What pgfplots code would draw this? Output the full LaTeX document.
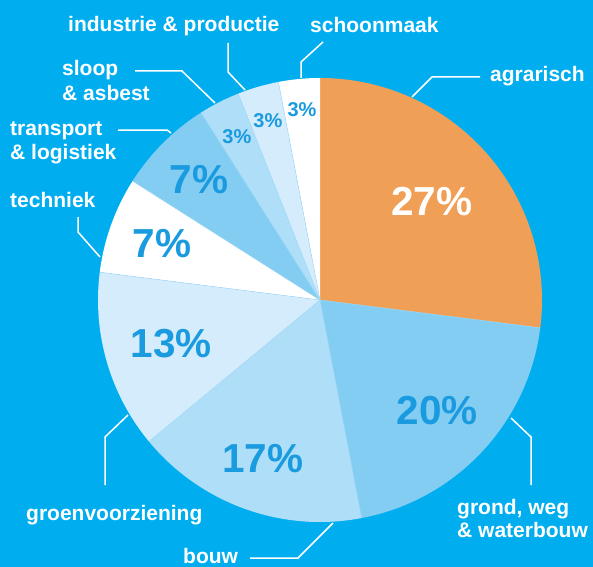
\documentclass[border=0pt]{standalone}
\usepackage{fontspec}
\setmainfont{Liberation Sans}
\usepackage{pgfplots}
\usepackage{pgfplotstable}
\pgfplotsset{compat=1.18}
\definecolor{bg}{HTML}{00AEEF}
\definecolor{sorange}{HTML}{F09F56}
\definecolor{sblueA}{HTML}{83CDF3}
\definecolor{sblueB}{HTML}{AEDEF8}
\definecolor{sblueC}{HTML}{D4ECFB}
\definecolor{swhite}{HTML}{FFFFFF}
\definecolor{pctblue}{HTML}{1A9BDF}
\definecolor{edge}{HTML}{A6D9F6}

\pgfplotstableread{
name value fc tc fs lr
agrarisch 27 sorange swhite 40.5 149
grond 20 sblueA pctblue 40.5 161
bouw 17 sblueB pctblue 40.5 169
groen 13 sblueC pctblue 40.5 155
techniek 7 swhite pctblue 40.5 168
transport 7 sblueA pctblue 40.5 171
sloop 3 sblueB pctblue 20 183
industrie 3 sblueC pctblue 20 187
schoonmaak 3 swhite pctblue 20 191
}\piedata

\newcommand\lbl[3]{\node[anchor=base west, text=white, inner sep=0pt,
  font=\fontsize{21bp}{23bp}\selectfont\bfseries] at (axis cs:#1,#2) {#3};}
\newcommand\lead[1]{\draw[white, line width=1.5bp, line join=miter] #1;}

\begin{document}
\begin{tikzpicture}
\begin{axis}[name=ax, width=593bp, height=567bp, scale only axis,
  xmin=0, xmax=593, ymin=0, ymax=567, y dir=reverse,
  hide axis, clip=false]
\fill[bg] (axis cs:0,0) rectangle (axis cs:593,567);
% slices
\def\angstart{90}
\pgfplotsforeachungrouped \i in {0,...,8}{%
  \pgfplotstablegetelem{\i}{value}\of\piedata\let\v\pgfplotsretval
  \pgfplotstablegetelem{\i}{fc}\of\piedata\let\fc\pgfplotsretval
  \pgfmathsetmacro\angend{\angstart-3.6*\v}
  \edef\temp{\noexpand\fill[fill=\fc]
    (axis cs:320,300) -- ++(\angstart:222bp)
    arc[start angle=\angstart, end angle=\angend, radius=222bp] -- cycle;}%
  \temp
  \xdef\angstart{\angend}%
}
% faint radial separators
\def\angstart{90}
\pgfplotsforeachungrouped \i in {0,...,8}{%
  \pgfplotstablegetelem{\i}{value}\of\piedata\let\v\pgfplotsretval
  \pgfmathsetmacro\angend{\angstart-3.6*\v}
  \edef\temp{\noexpand\draw[edge, line width=0.5bp]
    (axis cs:320,300) -- ++(\angstart:221.5bp);}%
  \ifnum\i>0 \temp\fi
  \xdef\angstart{\angend}%
}
% percentage labels
\def\angstart{90}
\pgfplotsforeachungrouped \i in {0,...,8}{%
  \pgfplotstablegetelem{\i}{value}\of\piedata\let\v\pgfplotsretval
  \pgfplotstablegetelem{\i}{tc}\of\piedata\let\tc\pgfplotsretval
  \pgfplotstablegetelem{\i}{fs}\of\piedata\let\fs\pgfplotsretval
  \pgfplotstablegetelem{\i}{lr}\of\piedata\let\lr\pgfplotsretval
  \pgfmathsetmacro\angend{\angstart-3.6*\v}
  \pgfmathsetmacro\angmid{(\angstart+\angend)/2}
  \edef\temp{\noexpand\path (axis cs:320,300) ++(\angmid:\lr bp)
    node[inner sep=0pt, text=\tc,
      font=\noexpand\fontsize{\fs bp}{\fs bp}\noexpand\selectfont\noexpand\bfseries]
      {\v\noexpand\%};}%
  \temp
  \xdef\angstart{\angend}%
}
% leader lines
\lead{(axis cs:412,97) -- (axis cs:432,77) -- (axis cs:480,77)}
\lead{(axis cs:301,78) -- (axis cs:301,62) -- (axis cs:323,42)}
\lead{(axis cs:245,90) -- (axis cs:228,72) -- (axis cs:228,43)}
\lead{(axis cs:215,103) -- (axis cs:182,71) -- (axis cs:135,71)}
\lead{(axis cs:171,133) -- (axis cs:167,130) -- (axis cs:118,130)}
\lead{(axis cs:100,257) -- (axis cs:78,232) -- (axis cs:78,217)}
\lead{(axis cs:128,415) -- (axis cs:105,437) -- (axis cs:105,485)}
\lead{(axis cs:333,523) -- (axis cs:298,558) -- (axis cs:250,558)}
\lead{(axis cs:511,418) -- (axis cs:531,437) -- (axis cs:531,485)}
% category labels
\lbl{490}{82}{agrarisch}
\lbl{310}{33}{schoonmaak}
\lbl{68}{32}{industrie \& productie}
\lbl{62}{76}{sloop}
\lbl{62}{100}{\& asbest}
\lbl{10}{135}{transport}
\lbl{10}{159}{\& logistiek}
\lbl{10}{207}{techniek}
\lbl{26}{520}{groenvoorziening}
\lbl{183}{563}{bouw}
\lbl{457}{514}{grond, weg}
\lbl{457}{537}{\& waterbouw}
\end{axis}
\pgfresetboundingbox
\path[use as bounding box] (ax.south west) rectangle (ax.north east);
\end{tikzpicture}
\end{document}
